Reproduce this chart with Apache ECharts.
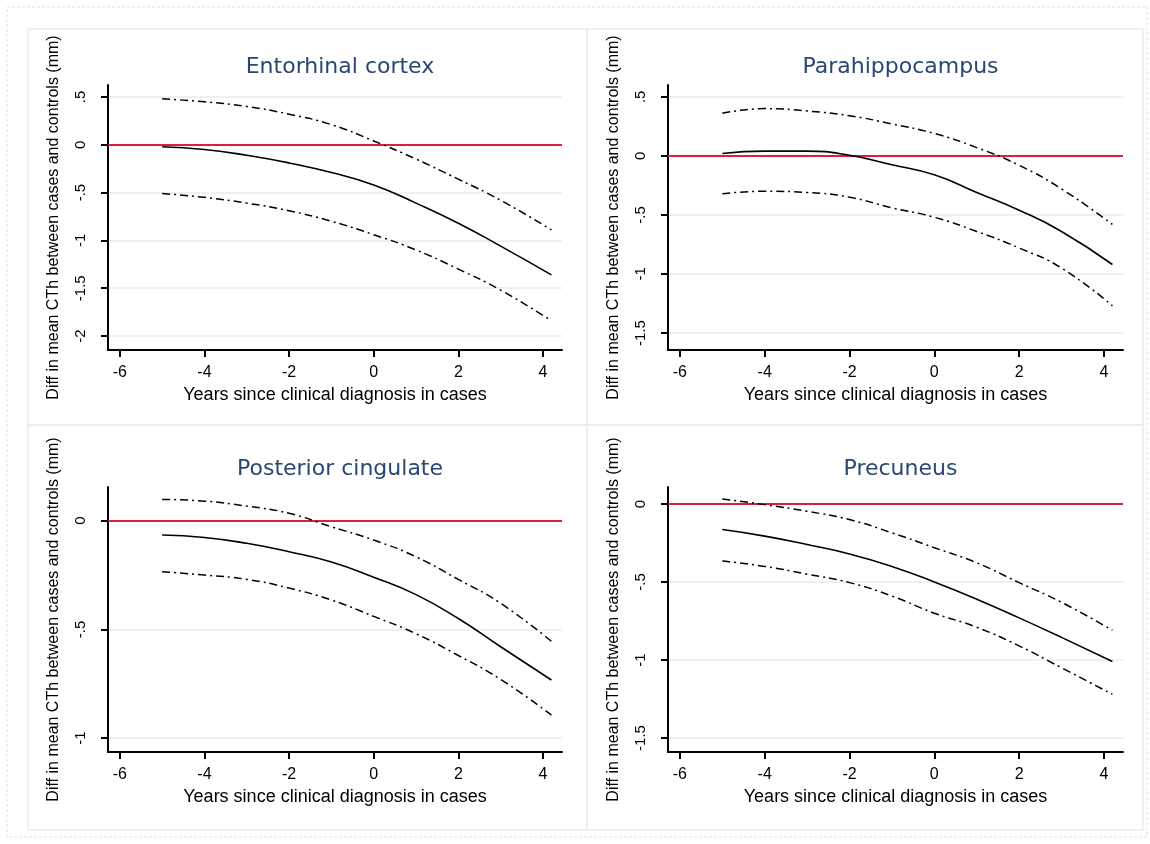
<!DOCTYPE html>
<html>
<head>
<meta charset="utf-8">
<script src="https://cdn.jsdelivr.net/npm/echarts@6/dist/echarts.min.js"></script>
<style>html,body{margin:0;padding:0;background:#fff;}#chart{width:1150px;height:844px;}</style>
</head>
<body>
<div id="chart"></div>
<script>
// ---- data ----
const years = [-5, -4, -3, -2, -1, 0, 1, 2, 3, 4.2];
const xTicks = [-6, -4, -2, 0, 2, 4];

const titles = ['Entorhinal cortex', 'Parahippocampus', 'Posterior cingulate', 'Precuneus'];

const entoMean  = [-0.02, -0.05, -0.11, -0.19, -0.29, -0.42, -0.61, -0.82, -1.06, -1.36];
const entoUpper = [0.48, 0.45, 0.40, 0.32, 0.21, 0.04, -0.15, -0.36, -0.58, -0.89];
const entoLower = [-0.51, -0.55, -0.61, -0.69, -0.80, -0.94, -1.10, -1.30, -1.52, -1.84];

const paraMean  = [0.02, 0.04, 0.04, 0.005, -0.075, -0.16, -0.31, -0.46, -0.64, -0.92];
const paraUpper = [0.36, 0.40, 0.38, 0.34, 0.27, 0.19, 0.07, -0.08, -0.28, -0.58];
const paraLower = [-0.32, -0.30, -0.31, -0.35, -0.44, -0.52, -0.64, -0.78, -0.95, -1.27];

const pcingMean  = [-0.066, -0.077, -0.104, -0.143, -0.19, -0.26, -0.34, -0.45, -0.58, -0.733];
const pcingUpper = [0.098, 0.09, 0.067, 0.034, -0.028, -0.089, -0.166, -0.27, -0.38, -0.555];
const pcingLower = [-0.235, -0.25, -0.27, -0.31, -0.365, -0.44, -0.52, -0.62, -0.73, -0.894];

const precMean  = [-0.164, -0.206, -0.26, -0.32, -0.40, -0.50, -0.61, -0.73, -0.855, -1.01];
const precUpper = [0.032, -0.004, -0.047, -0.10, -0.185, -0.28, -0.377, -0.504, -0.63, -0.81];
const precLower = [-0.366, -0.40, -0.45, -0.504, -0.59, -0.70, -0.79, -0.91, -1.05, -1.22];

const yTicksEnto  = [0.5, 0, -0.5, -1, -1.5, -2];
const yTicksPara  = [0.5, 0, -0.5, -1, -1.5];
const yTicksPcing = [0, -0.5, -1];
const yTicksPrec  = [0, -0.5, -1, -1.5];

const xName = 'Years since clinical diagnosis in cases';
const yName = 'Diff in mean CTh between cases and controls (mm)';

// ---- layout ----
const panels = [
  {mean: entoMean, upper: entoUpper, lower: entoLower, yTicks: yTicksEnto, ymin: -2.146, ymax: 0.625, left: 108, top: 85, width: 454},
  {mean: paraMean, upper: paraUpper, lower: paraLower, yTicks: yTicksPara, ymin: -1.644, ymax: 0.60, left: 668, top: 85, width: 455},
  {mean: pcingMean, upper: pcingUpper, lower: pcingLower, yTicks: yTicksPcing, ymin: -1.064, ymax: 0.155, left: 108, top: 487, width: 454},
  {mean: precMean, upper: precUpper, lower: precLower, yTicks: yTicksPrec, ymin: -1.59, ymax: 0.109, left: 668, top: 487, width: 455}
];
const gridH = 265;
const fmt = v => String(v).replace('0.', '.');
const axisFont = 'Liberation Sans, Arial, sans-serif';

const grid = [], xAxis = [], yAxis = [], series = [], title = [];
panels.forEach((p, i) => {
  grid.push({left: p.left, top: p.top, width: p.width, height: gridH});
  title.push({
    text: titles[i], left: p.left + p.width / 2, top: p.top - 34, textAlign: 'center',
    textStyle: {fontFamily: 'DejaVu Sans', fontSize: 22, fontWeight: 'normal', color: '#2a4673'}
  });
  xAxis.push({
    type: 'value', gridIndex: i, min: -6.28, max: 4.45,
    name: xName, nameLocation: 'middle', nameGap: 36,
    nameTextStyle: {fontFamily: axisFont, fontSize: 18, color: '#000'},
    axisLine: {onZero: false, lineStyle: {color: '#000', width: 2}},
    axisTick: {customValues: xTicks, length: 7, lineStyle: {color: '#000', width: 2}},
    axisLabel: {customValues: xTicks, formatter: fmt, fontFamily: axisFont, fontSize: 16, color: '#000', margin: 15},
    splitLine: {show: false}
  });
  yAxis.push({
    type: 'value', gridIndex: i, min: p.ymin, max: p.ymax,
    name: yName, nameLocation: 'middle', nameGap: 46,
    nameTextStyle: {fontFamily: axisFont, fontSize: 16, color: '#000'},
    axisLine: {onZero: false, lineStyle: {color: '#000', width: 2}},
    axisTick: {customValues: p.yTicks, length: 7, lineStyle: {color: '#000', width: 2}},
    axisLabel: {customValues: p.yTicks, formatter: fmt, rotate: 90, fontFamily: axisFont, fontSize: 15, color: '#000', margin: 20},
    splitLine: {show: true, lineStyle: {color: '#e4ecf3', width: 1.5}}
  });
  const mk = (arr) => years.map((x, k) => [x, arr[k]]);
  series.push({
    type: 'line', xAxisIndex: i, yAxisIndex: i, data: mk(p.mean), smooth: true, symbol: 'none',
    lineStyle: {color: '#000', width: 1.6}, z: 3,
    markLine: {silent: true, symbol: 'none', label: {show: false},
      lineStyle: {color: '#d8213f', width: 2, type: 'solid'}, data: [{yAxis: 0}], z: 2}
  });
  series.push({
    type: 'line', xAxisIndex: i, yAxisIndex: i, data: mk(p.upper), smooth: true, symbol: 'none',
    lineStyle: {color: '#000', width: 1.5, type: [8, 4, 2, 4]}, z: 3
  });
  series.push({
    type: 'line', xAxisIndex: i, yAxisIndex: i, data: mk(p.lower), smooth: true, symbol: 'none',
    lineStyle: {color: '#000', width: 1.5, type: [8, 4, 2, 4]}, z: 3
  });
});

const chart = echarts.init(document.getElementById('chart'), null, {renderer: 'canvas'});
chart.setOption({
  backgroundColor: '#fff',
  animation: false,
  title, grid, xAxis, yAxis, series,
  graphic: [
    {type: 'rect', shape: {x: 7, y: 7, width: 1140, height: 830}, style: {fill: 'none', stroke: '#e6edf3', lineWidth: 1.5, lineDash: [3, 2]}, silent: true, z: -1},
    {type: 'rect', shape: {x: 28, y: 29, width: 559, height: 396}, style: {fill: 'none', stroke: '#e6edf3', lineWidth: 1.5}, silent: true, z: -1},
    {type: 'rect', shape: {x: 587, y: 29, width: 556, height: 396}, style: {fill: 'none', stroke: '#e6edf3', lineWidth: 1.5}, silent: true, z: -1},
    {type: 'rect', shape: {x: 28, y: 425, width: 559, height: 405}, style: {fill: 'none', stroke: '#e6edf3', lineWidth: 1.5}, silent: true, z: -1},
    {type: 'rect', shape: {x: 587, y: 425, width: 556, height: 405}, style: {fill: 'none', stroke: '#e6edf3', lineWidth: 1.5}, silent: true, z: -1}
  ]
});
</script>
</body>
</html>
